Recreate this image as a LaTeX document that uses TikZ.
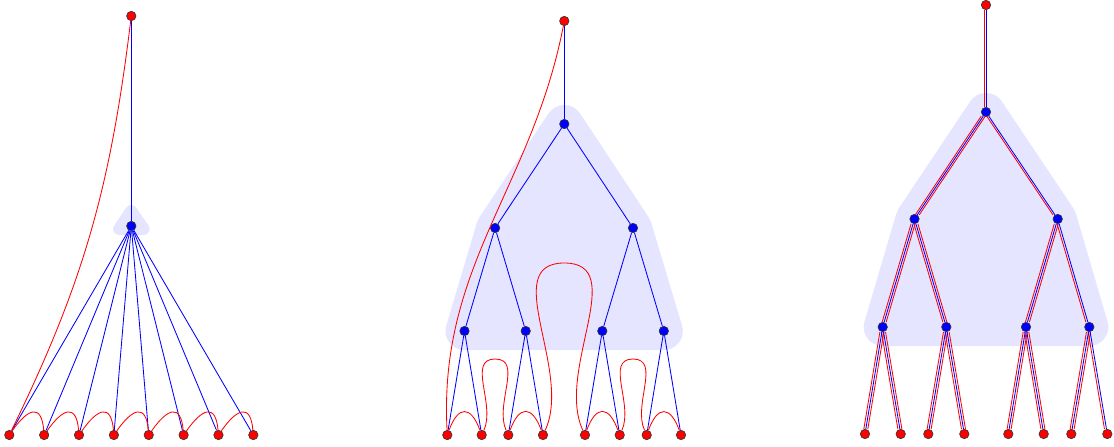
\documentclass[tikz,border=0pt]{standalone}
\usetikzlibrary{backgrounds}
\begin{document}
\begin{tikzpicture}[x=0.25mm, y=0.25mm,
    leaf/.style={circle, draw=black!80, fill=red, line width=0.45pt, minimum size=2.35mm, inner sep=0pt},
    inner/.style={leaf, fill=blue},
    edge/.style={blue, line width=0.6pt},
    tour/.style={red, line width=0.6pt},
    hull/.style={fill=blue!10, draw=blue!10, line join=round},
    lside/.style={transform canvas={xshift=-0.5mm}},
    rside/.style={transform canvas={xshift=0.5mm}},
    bump/.style={out=70, in=110, looseness=2.2}]

\useasboundingbox (0,0) rectangle (1114,446);

% tree 1
\node[leaf]  (t1r) at (131.3,430) {};
\node[inner] (t1a) at (131.3,220) {};
\foreach \i in {1,...,8}
  \node[leaf] (t1l\i) at ({9.3+34.86*(\i-1)},11) {};

\begin{scope}[on background layer]
\filldraw[hull, line width=3mm] (131.3,235) -- (119,217) -- (143.6,217) -- cycle;
\end{scope}

\draw[edge] (t1r) -- (t1a);
\foreach \i in {1,...,8}
  \draw[edge] (t1a) -- (t1l\i);
\draw[tour] (t1r) to[out=-97, in=64] (t1l1);
\foreach \i [count=\j from 2] in {1,...,7}
  \draw[tour] (t1l\i) to[out=55, in=95, looseness=2.2] (t1l\j);

% tree 2
\node[leaf]  (t2r)  at (564.3,425) {};
\node[inner] (t2a)  at (564.3,322) {};
\node[inner] (t2b1) at (495.1,218) {};
\node[inner] (t2b2) at (633,218) {};
\foreach \x [count=\i] in {464.5,525.7,602.3,663.8}
  \node[inner] (t2c\i) at (\x,115) {};
\foreach \x [count=\i] in {447.3,481.7,508.3,543,585,619.7,646.7,681}
  \node[leaf] (t2l\i) at (\x,11) {};

\begin{scope}[on background layer]
\filldraw[hull, line width=9.5mm] (t2a.center) -- (t2b1.center) -- (t2c1.center)
  -- (t2c4.center) -- (t2b2.center) -- cycle;
\end{scope}

\draw[edge] (t2r) -- (t2a);
\foreach \a/\b in {t2a/t2b1, t2a/t2b2, t2b1/t2c1, t2b1/t2c2, t2b2/t2c3, t2b2/t2c4,
    t2c1/t2l1, t2c1/t2l2, t2c2/t2l3, t2c2/t2l4, t2c3/t2l5, t2c3/t2l6, t2c4/t2l7, t2c4/t2l8}
  \draw[edge] (\a) -- (\b);

\coordinate (t2u1) at (495.1,87);
\coordinate (t2u2) at (564.3,183);
\coordinate (t2u3) at (633,87);
\draw[tour] (t2r) to[out=-101, in=93] (t2l1) to[bump] (t2l2)
  to[out=65, in=180] (t2u1) to[out=0, in=115] (t2l3) to[bump] (t2l4)
  to[out=65, in=180] (t2u2) to[out=0, in=115] (t2l5) to[bump] (t2l6)
  to[out=65, in=180] (t2u3) to[out=0, in=115] (t2l7) to[bump] (t2l8);

% tree 3
\node[leaf]  (t3r)  at (986,441) {};
\node[inner] (t3a)  at (986,334) {};
\node[inner] (t3b1) at (914.5,227) {};
\node[inner] (t3b2) at (1057.7,227) {};
\foreach \x [count=\i] in {882.7,946.3,1026,1089.3}
  \node[inner] (t3c\i) at (\x,119) {};
\foreach \x [count=\i] in {865,900.7,928.3,964.3,1008.3,1043.7,1071.3,1107.3}
  \node[leaf] (t3l\i) at (\x,12) {};

\begin{scope}[on background layer]
\filldraw[hull, line width=9.5mm] (t3a.center) -- (t3b1.center) -- (t3c1.center)
  -- (t3c4.center) -- (t3b2.center) -- cycle;
\end{scope}

\foreach \a/\b in {t3a/t3b1, t3b1/t3c1, t3b1/t3c2, t3b2/t3c3,
    t3c1/t3l1, t3c1/t3l2, t3c2/t3l3, t3c2/t3l4, t3c3/t3l5, t3c3/t3l6, t3c4/t3l7} {
  \draw[tour, lside] (\a) -- (\b);
  \draw[tour, rside] (\a) -- (\b);
}
\foreach \a/\b in {t3r/t3a, t3a/t3b2, t3b2/t3c4, t3c4/t3l8}
  \draw[tour, lside] (\a) -- (\b);
\foreach \a/\b in {t3r/t3a, t3a/t3b1, t3a/t3b2, t3b1/t3c1, t3b1/t3c2, t3b2/t3c3, t3b2/t3c4,
    t3c1/t3l1, t3c1/t3l2, t3c2/t3l3, t3c2/t3l4, t3c3/t3l5, t3c3/t3l6, t3c4/t3l7, t3c4/t3l8}
  \draw[edge] (\a) -- (\b);

\end{tikzpicture}
\end{document}
